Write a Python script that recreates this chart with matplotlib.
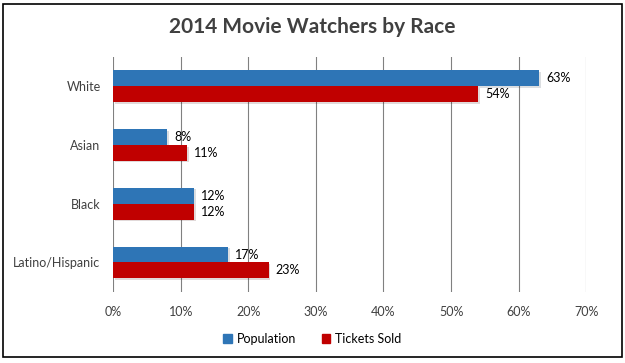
import matplotlib.pyplot as plt
import matplotlib.patheffects as pe
import matplotlib.patches as mpatches
import numpy as np

categories = ["White", "Asian", "Black", "Latino/Hispanic"]
population = [63, 8, 12, 17]
tickets_sold = [54, 11, 12, 23]
xticks = [0, 10, 20, 30, 40, 50, 60, 70]

BLUE = "#2E75B6"
RED = "#C00000"

plt.rcParams["font.family"] = ["Lato", "DejaVu Sans"]

fig = plt.figure(figsize=(6.25, 3.63), dpi=100)
ax = fig.add_axes([0.181, 0.196, 0.757, 0.648])

y = np.arange(len(categories))[::-1]
h = 0.27
shadow = [pe.SimplePatchShadow(offset=(1.2, -1.2), alpha=0.15), pe.Normal()]

b1 = ax.barh(y + h / 2, population, height=h, color=BLUE, label="Population",
             zorder=3, path_effects=shadow)
b2 = ax.barh(y - h / 2, tickets_sold, height=h, color=RED, label="Tickets Sold",
             zorder=3, path_effects=shadow)

for bars, vals in ((b1, population), (b2, tickets_sold)):
    for bar, v in zip(bars, vals):
        ax.annotate(f"{v}%", (bar.get_width(), bar.get_y() + bar.get_height() / 2),
                    xytext=(5, 0), textcoords="offset points", va="center",
                    ha="left", fontsize=9, color="#000000")

ax.set_xlim(0, 70)
ax.set_ylim(-0.5, len(categories) - 0.5)
ax.set_xticks(xticks)
ax.set_xticklabels([f"{t}%" for t in xticks], fontsize=9, color="#404040")
ax.set_yticks(y)
ax.set_yticklabels(categories, fontsize=9, color="#404040")
ax.tick_params(length=0, pad=10)
ax.tick_params(axis="y", pad=9)
ax.grid(axis="x", color="#808080", linewidth=0.8, zorder=0)
for s in ax.spines.values():
    s.set_visible(False)

fig.text(0.5, 0.925, "2014 Movie Watchers by Race", ha="center", va="center",
         fontsize=15, fontweight="bold", color="#404040")

handles = [mpatches.Patch(color=BLUE, label="Population"),
           mpatches.Patch(color=RED, label="Tickets Sold")]
fig.legend(handles=handles, loc="center", bbox_to_anchor=(0.5, 0.066), ncol=2,
           frameon=False, fontsize=9, handlelength=0.7, handleheight=0.7,
           handletextpad=0.4, columnspacing=2.0)

fig.patches.append(mpatches.Rectangle((0.005, 0.017), 0.99, 0.973,
                                      transform=fig.transFigure, fill=False,
                                      edgecolor="black", linewidth=1.2))

fig.savefig("out.png", dpi=100)
